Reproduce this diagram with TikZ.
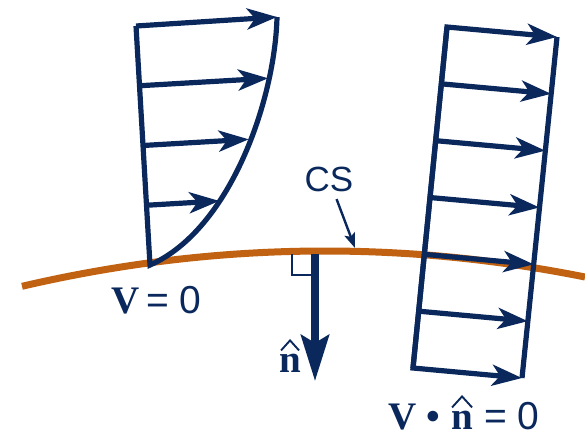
\documentclass[tikz,border=0pt]{standalone}
\usepackage{fontspec}
\setmainfont{Liberation Sans}
\newfontfamily\serifbf{Liberation Serif}
\usetikzlibrary{arrows.meta,calc}
\definecolor{navy}{RGB}{10,40,92}
\definecolor{cso}{RGB}{192,98,18}
\begin{document}
\begin{tikzpicture}[x=1pt,y=-1pt,
  prof/.style={draw=navy,line width=5.2pt},
  vec/.style={prof,-{Stealth[length=30pt,width=21pt,inset=8pt]}},
  lbl/.style={text=navy,inner sep=0pt,font=\fontsize{39}{42}\selectfont},
  hatmark/.style={draw=navy,line width=1.9pt}]
\useasboundingbox (0,0) rectangle (585,432);
% control surface
\draw[cso,line width=7pt] plot[domain=22:585,samples=80] (\x,{251+((\x-325)/51)*((\x-325)/51)});
% left profile (no slip)
\coordinate (A) at (136,26);
\coordinate (B) at (150,265);
\coordinate (T1) at (277,17);
\draw[prof] (T1) .. controls (275,100) and (230,230) .. (B) -- (A);
\draw[vec] (A) -- (T1);
\coordinate (s2) at ($(A)!0.25!(B)$);
\coordinate (s3) at ($(A)!0.5!(B)$);
\coordinate (s4) at ($(A)!0.75!(B)$);
\coordinate (t2) at ($(s2)+(128.7,-7.5)$);
\coordinate (t3) at ($(s3)+(105.8,-6.2)$);
\coordinate (t4) at ($(s4)+(72.9,-4.3)$);
\draw[vec] (s2) -- (t2);
\draw[vec] (s3) -- (t3);
\draw[vec] (s4) -- (t4);
% right profile (uniform, tilted)
\coordinate (TL) at (447,27);
\coordinate (TR) at (557,37);
\coordinate (BL) at (413,368);
\coordinate (BR) at (522,378);
\draw[prof] (TR) -- (BR);
\draw[vec] (BL) -- (TL) -- (TR);
\draw[vec] (TL) -- (BL) -- (BR);
\foreach \i in {1,...,5}
  \draw[vec] ($(TL)!\i/6!(BL)$) -- ($(TR)!\i/6!(BR)$);
% normal vector with right-angle mark
\draw[navy,line width=2pt] (292,254) -- (292,275) -- (311,275);
\coordinate (N0) at (315,254);
\coordinate (N1) at (315,381);
\draw[navy,line width=7.5pt,-{Stealth[length=46pt,width=28pt,inset=8pt]}] (N0) -- (N1);
% CS label
\node[lbl,font=\fontsize{35}{38}\selectfont] (cs) at (329,179) {CS};
\coordinate (cstip) at (355,248);
\draw[navy,line width=2.4pt,shorten <=8pt,-{Stealth[length=15pt,width=11pt,inset=3pt]}] (cs) -- (cstip);
% labels
\node[lbl,anchor=base west] (v0) at (111,313) {\serifbf\bfseries V};
\node[lbl,anchor=base west] (v0eq) at (146,313) {= 0};
\node[lbl,anchor=base west] (nlab) at (279,372) {\serifbf\bfseries n};
\draw[hatmark] ($(nlab.north)+(-9,-3)$) -- ($(nlab.north)+(0,-13)$) -- ($(nlab.north)+(9,-3)$);
\node[lbl,anchor=base west] (vb) at (388,429) {\serifbf\bfseries V};
\node[lbl,anchor=base] (dot) at (433,429) {•};
\node[lbl,anchor=base west] (nb) at (451,429) {\serifbf\bfseries n};
\draw[hatmark] ($(nb.north)+(-10,-3)$) -- ($(nb.north)+(0,-14)$) -- ($(nb.north)+(10,-3)$);
\node[lbl,anchor=base west] (eq) at (484,429) {= 0};
\end{tikzpicture}
\end{document}
